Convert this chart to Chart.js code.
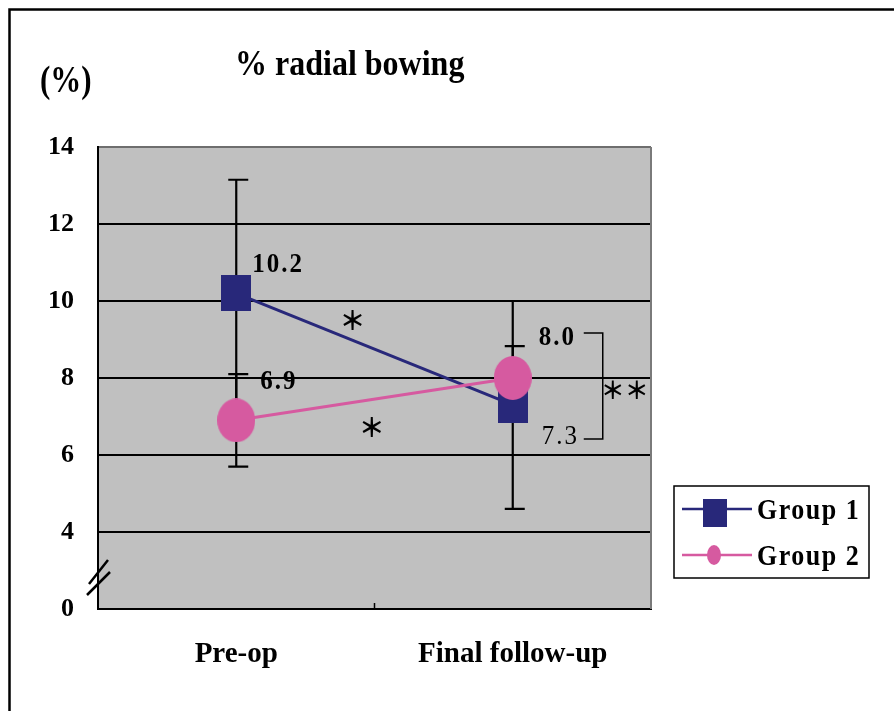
<!DOCTYPE html>
<html><head><meta charset="utf-8">
<script src="https://cdn.jsdelivr.net/npm/chart.js@4.4.1/dist/chart.umd.min.js"></script>
<style>html,body{margin:0;padding:0;background:#fff;} canvas{display:block;}</style>
</head><body>
<canvas id="c" width="894" height="711"></canvas>
<script>
// ---- data ----
const categories = ['Pre-op', 'Final follow-up'];
const seriesNames = ['Group 1', 'Group 2'];
const group1 = [10.2, 7.3];
const group2 = [6.9, 8.0];
const group1SD = [2.95, 2.7];
const group2SD = [1.2, 0.83];
const yTickValues = [2, 4, 6, 8, 10, 12, 14];
const yTickLabels = ['0', '4', '6', '8', '10', '12', '14'];
const titleText = '% radial bowing';
const unitText = '(%)';
const sigText = '＊';
const sigPairText = '＊＊';

// ---- styles ----
const NAVY = '#28287a', PINK = '#d65aa0', PLOT_BG = '#c0c0c0';
const SERIF = '"Liberation Serif", "Times New Roman", serif';
const CJK = '"Noto Sans CJK JP", "Noto Sans CJK SC", sans-serif';
const labelOffsets = [[[16, -29], [29, 32]], [[24, -39], [26, -40]]];
const labelWeights = [['bold', 'normal'], ['bold', 'bold']];
const sigMarks = [{cat: 0.42, val: 9.5}, {cat: 0.49, val: 6.73}];

function makeMarker(w, h, color, shape) {
  const c = document.createElement('canvas'); c.width = w; c.height = h;
  const x = c.getContext('2d'); x.fillStyle = color;
  if (shape === 'rect') x.fillRect(0, 0, w, h);
  else { x.beginPath(); x.ellipse(w / 2, h / 2, w / 2, h / 2, 0, 0, Math.PI * 2); x.fill(); }
  return c;
}
const sqMarker = makeMarker(30, 36, NAVY, 'rect');
const elMarker = makeMarker(38, 44, PINK, 'ellipse');
const sdArrays = [group1SD, group2SD];

function stretchedText(ctx, text, x, y, sy) {
  ctx.save(); ctx.translate(x, y); ctx.scale(1, sy); ctx.fillText(text, 0, 0); ctx.restore();
}

const deco = {
  id: 'deco',
  beforeDraw(chart) {
    const {ctx, chartArea: a} = chart;
    ctx.save();
    ctx.fillStyle = '#fff'; ctx.fillRect(0, 0, chart.width, chart.height);
    ctx.fillStyle = PLOT_BG; ctx.fillRect(a.left, a.top, a.right - a.left, a.bottom - a.top);
    ctx.restore();
  },
  beforeDatasetsDraw(chart) {
    const {ctx, chartArea: a, scales: {y}} = chart;
    ctx.save();
    ctx.strokeStyle = '#7a7a7a'; ctx.lineWidth = 2;
    ctx.beginPath(); ctx.moveTo(a.right, a.top); ctx.lineTo(a.right, a.bottom); ctx.stroke();
    const xs = chart.scales.x;
    const mx = (xs.getPixelForValue(0) + xs.getPixelForValue(1)) / 2;
    ctx.strokeStyle = '#000'; ctx.lineWidth = 1.5;
    ctx.beginPath(); ctx.moveTo(mx, a.bottom - 6); ctx.lineTo(mx, a.bottom); ctx.stroke();
    // error bars
    ctx.strokeStyle = '#000'; ctx.lineWidth = 2.2;
    chart.data.datasets.forEach((ds, i) => {
      const meta = chart.getDatasetMeta(i);
      ds.data.forEach((v, j) => {
        const x = meta.data[j].x;
        const yt = y.getPixelForValue(v + sdArrays[i][j]);
        const yb = y.getPixelForValue(v - sdArrays[i][j]);
        ctx.beginPath();
        ctx.moveTo(x, yt); ctx.lineTo(x, yb);
        ctx.moveTo(x - 8, yt); ctx.lineTo(x + 12, yt);
        ctx.moveTo(x - 8, yb); ctx.lineTo(x + 12, yb);
        ctx.stroke();
      });
    });
    ctx.restore();
  },
  afterDraw(chart) {
    const {ctx, chartArea: a, scales: {x: xs, y}} = chart;
    ctx.save();
    // outer frame
    ctx.strokeStyle = '#000'; ctx.lineWidth = 2.5;
    ctx.beginPath(); ctx.moveTo(9.5, chart.height); ctx.lineTo(9.5, 9.5); ctx.lineTo(chart.width, 9.5); ctx.stroke();
    // title & unit
    ctx.fillStyle = '#000'; ctx.textAlign = 'left'; ctx.textBaseline = 'alphabetic';
    ctx.font = 'bold 32px ' + SERIF; stretchedText(ctx, titleText, 235, 75, 1.15);
    ctx.font = 'bold 31px ' + SERIF; stretchedText(ctx, unitText, 40, 92, 1.2);
    // axis break
    ctx.lineWidth = 2.5; ctx.strokeStyle = '#000';
    ctx.beginPath();
    ctx.moveTo(a.left - 9, a.bottom - 25); ctx.lineTo(a.left + 10, a.bottom - 49);
    ctx.moveTo(a.left - 11, a.bottom - 14); ctx.lineTo(a.left + 12, a.bottom - 37);
    ctx.stroke();
    // data labels
    ctx.textBaseline = 'middle';
    if ('letterSpacing' in ctx) ctx.letterSpacing = '2px';
    const lblPos = [];
    chart.data.datasets.forEach((ds, i) => {
      const meta = chart.getDatasetMeta(i);
      lblPos.push([]);
      ds.data.forEach((v, j) => {
        const p = meta.data[j];
        const [dx, dy] = labelOffsets[i][j];
        ctx.font = labelWeights[i][j] + ' 25px ' + SERIF;
        stretchedText(ctx, v.toFixed(1), p.x + dx, p.y + dy, 1.12);
        lblPos[i].push([p.x + dx, p.y + dy]);
      });
    });
    if ('letterSpacing' in ctx) ctx.letterSpacing = '0px';
    // bracket between final labels
    const fx = xs.getPixelForValue(1);
    const yTop = lblPos[1][1][1] - 5, yBot = lblPos[0][1][1] + 2;
    ctx.lineWidth = 1.5;
    ctx.beginPath();
    ctx.moveTo(fx + 71, yTop); ctx.lineTo(fx + 90, yTop); ctx.lineTo(fx + 90, yBot); ctx.lineTo(fx + 71, yBot);
    ctx.stroke();
    // significance marks
    ctx.font = 'bold 26px ' + CJK; ctx.textAlign = 'center';
    const x0 = xs.getPixelForValue(0), x1 = xs.getPixelForValue(1);
    sigMarks.forEach(m => ctx.fillText(sigText, x0 + m.cat * (x1 - x0), y.getPixelForValue(m.val)));
    ctx.font = 'bold 24px ' + CJK;
    ctx.fillText(sigPairText, fx + 112, (yTop + yBot) / 2 + 4);
    // legend
    const lx = 674, ly = 486, lw = 195, lh = 92;
    ctx.fillStyle = '#fff'; ctx.fillRect(lx, ly, lw, lh);
    ctx.strokeStyle = '#000'; ctx.lineWidth = 1.5; ctx.strokeRect(lx, ly, lw, lh);
    const rows = [ly + 23, ly + 69];
    const cols = [NAVY, PINK];
    chart.data.datasets.forEach((ds, i) => {
      const ry = rows[i];
      ctx.strokeStyle = cols[i]; ctx.lineWidth = 2.5;
      ctx.beginPath(); ctx.moveTo(lx + 8, ry); ctx.lineTo(lx + 78, ry); ctx.stroke();
      ctx.fillStyle = cols[i];
      if (i === 0) ctx.fillRect(lx + 29, ry - 10, 24, 28);
      else { ctx.beginPath(); ctx.ellipse(lx + 40, ry, 7, 10, 0, 0, Math.PI * 2); ctx.fill(); }
      ctx.fillStyle = '#000'; ctx.textAlign = 'left'; ctx.textBaseline = 'middle';
      ctx.font = 'bold 26px ' + SERIF;
      if ('letterSpacing' in ctx) ctx.letterSpacing = '1.5px';
      stretchedText(ctx, ds.label, lx + 83, ry + 3, 1.1);
      if ('letterSpacing' in ctx) ctx.letterSpacing = '0px';
    });
    ctx.restore();
  }
};

new Chart(document.getElementById('c').getContext('2d'), {
  type: 'line',
  data: {
    labels: categories,
    datasets: [
      {label: seriesNames[0], data: group1, borderColor: NAVY, borderWidth: 3, pointStyle: sqMarker, pointRadius: 18, order: 1, fill: false, tension: 0},
      {label: seriesNames[1], data: group2, borderColor: PINK, borderWidth: 3, pointStyle: elMarker, pointRadius: 18, order: 0, fill: false, tension: 0}
    ]
  },
  options: {
    responsive: false, animation: false, devicePixelRatio: 1,
    layout: {padding: {left: 0, top: 147, right: 243, bottom: 0}},
    plugins: {legend: {display: false}, tooltip: {enabled: false}, title: {display: false}},
    scales: {
      x: {
        offset: true,
        grid: {display: false, drawTicks: false},
        border: {display: true, color: '#000', width: 2},
        ticks: {font: {family: SERIF, size: 29, weight: 'bold'}, color: '#000', padding: 28, maxRotation: 0},
        afterFit(s) { s.height = 102; }
      },
      y: {
        min: 2, max: 14,
        afterBuildTicks(s) { s.ticks = yTickValues.map(v => ({value: v})); },
        ticks: {callback: v => yTickLabels[yTickValues.indexOf(v)], font: {family: SERIF, size: 26, weight: 'bold'}, color: '#000', padding: 24},
        grid: {color: c => (c.tick && c.tick.value === 14) ? '#6e6e6e' : '#000', lineWidth: 2, drawTicks: false},
        border: {display: true, color: '#000', width: 2},
        afterFit(s) { s.width = 98; }
      }
    }
  },
  plugins: [deco]
});
</script>
</body></html>
